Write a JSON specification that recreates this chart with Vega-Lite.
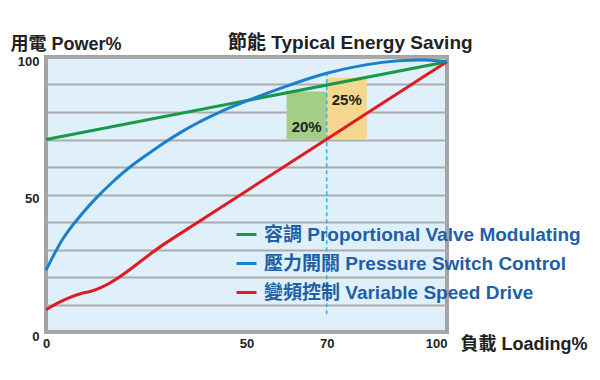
{
  "$schema": "https://vega.github.io/schema/vega-lite/v6.json",
  "width": 401,
  "height": 275,
  "autosize": {"type": "none"},
  "padding": {"left": 46, "top": 57, "right": 153, "bottom": 48},
  "background": "white",
  "config": {
    "view": {"fill": "#dff0fb", "stroke": "#a3a3a3", "strokeWidth": 4},
    "font": "Liberation Sans, Noto Sans CJK TC, sans-serif"
  },
  "title": {
    "text": "節能 Typical Energy Saving",
    "anchor": "start",
    "frame": "group",
    "dx": 182,
    "dy": 41,
    "offset": 8,
    "baseline": "alphabetic",
    "fontSize": 19,
    "fontWeight": "bold",
    "color": "#222222",
    "font": "Liberation Sans, Noto Sans CJK TC, sans-serif"
  },
  "datasets": {
    "lines": [
      {"series": "容調  Proportional Valve Modulating", "x": 0, "y": 70},
      {"series": "容調  Proportional Valve Modulating", "x": 100, "y": 98.3},
      {"series": "壓力開關  Pressure Switch Control", "x": 0, "y": 22.5},
      {"series": "壓力開關  Pressure Switch Control", "x": 4.2, "y": 34.6},
      {"series": "壓力開關  Pressure Switch Control", "x": 8.3, "y": 41.9},
      {"series": "壓力開關  Pressure Switch Control", "x": 12.5, "y": 48.9},
      {"series": "壓力開關  Pressure Switch Control", "x": 16.6, "y": 54.6},
      {"series": "壓力開關  Pressure Switch Control", "x": 20.8, "y": 60},
      {"series": "壓力開關  Pressure Switch Control", "x": 25, "y": 64.3},
      {"series": "壓力開關  Pressure Switch Control", "x": 29.1, "y": 68.5},
      {"series": "壓力開關  Pressure Switch Control", "x": 33.3, "y": 72.4},
      {"series": "壓力開關  Pressure Switch Control", "x": 37.4, "y": 75.8},
      {"series": "壓力開關  Pressure Switch Control", "x": 41.6, "y": 78.8},
      {"series": "壓力開關  Pressure Switch Control", "x": 45.7, "y": 81.6},
      {"series": "壓力開關  Pressure Switch Control", "x": 50, "y": 84},
      {"series": "壓力開關  Pressure Switch Control", "x": 60, "y": 89.5},
      {"series": "壓力開關  Pressure Switch Control", "x": 70, "y": 94.4},
      {"series": "壓力開關  Pressure Switch Control", "x": 80, "y": 97.4},
      {"series": "壓力開關  Pressure Switch Control", "x": 88, "y": 98.8},
      {"series": "壓力開關  Pressure Switch Control", "x": 95, "y": 99.1},
      {"series": "壓力開關  Pressure Switch Control", "x": 100, "y": 98.3},
      {"series": "變頻控制  Variable Speed Drive", "x": 0, "y": 8.1},
      {"series": "變頻控制  Variable Speed Drive", "x": 3, "y": 10.6},
      {"series": "變頻控制  Variable Speed Drive", "x": 6, "y": 12.6},
      {"series": "變頻控制  Variable Speed Drive", "x": 9, "y": 14.1},
      {"series": "變頻控制  Variable Speed Drive", "x": 11.2, "y": 14.8},
      {"series": "變頻控制  Variable Speed Drive", "x": 30, "y": 32.5},
      {"series": "變頻控制  Variable Speed Drive", "x": 50, "y": 51.3},
      {"series": "變頻控制  Variable Speed Drive", "x": 70, "y": 70.1},
      {"series": "變頻控制  Variable Speed Drive", "x": 90, "y": 88.9},
      {"series": "變頻控制  Variable Speed Drive", "x": 100, "y": 98.3}
    ],
    "boxes": [
      {"x": 60, "x2": 70, "y": 70, "y2": 87.5, "fill": "#a2ce85", "label": "20%", "lx": 65, "ly": 74.5},
      {"x": 70, "x2": 80, "y": 70, "y2": 92.5, "fill": "#f5d78e", "label": "25%", "lx": 75, "ly": 84.3}
    ],
    "marker": [
      {"x": 70, "y": 6.5, "y2": 95}
    ]
  },
  "layer": [
    {
      "data": {"name": "boxes"},
      "mark": {"type": "rect"},
      "encoding": {
        "x": {
          "field": "x", "type": "quantitative",
          "scale": {"domain": [0, 100], "nice": false, "zero": false},
          "axis": {
            "values": [0, 50, 70, 100],
            "domain": false, "ticks": false, "grid": false,
            "labelFontSize": 13, "labelFontWeight": "bold", "labelColor": "#222222",
            "labelPadding": 5, "labelOverlap": false,
            "labelAlign": {"condition": {"test": "datum.value == 100", "value": "right"}, "value": "center"},
            "title": "負載 Loading%",
            "titleFontSize": 18, "titleFontWeight": "bold", "titleColor": "#222222",
            "titleAnchor": "start", "titleAlign": "left", "titleBaseline": "alphabetic",
            "titleX": 414, "titleY": 17
          }
        },
        "x2": {"field": "x2"},
        "y": {
          "field": "y", "type": "quantitative",
          "scale": {"domain": [0, 100], "nice": false, "zero": false},
          "axis": {
            "values": [0, 10, 20, 30, 40, 50, 60, 70, 80, 90, 100],
            "tickCount": 11,
            "labelExpr": "datum.value % 50 === 0 ? datum.label : ''",
            "labelOverlap": false,
            "domain": false, "ticks": false,
            "grid": true, "gridColor": "#ababab", "gridWidth": 2, "gridOpacity": 1,
            "labelFontSize": 13, "labelFontWeight": "bold", "labelColor": "#222222",
            "labelPadding": 7, "labelOffset": 4,
            "title": "用電 Power%",
            "titleFontSize": 18, "titleFontWeight": "bold", "titleColor": "#222222",
            "titleAngle": 0, "titleAlign": "left", "titleBaseline": "alphabetic",
            "titleX": -36, "titleY": -8
          }
        },
        "y2": {"field": "y2"},
        "fill": {"field": "fill", "type": "nominal", "scale": null}
      }
    },
    {
      "data": {"name": "boxes"},
      "mark": {"type": "text", "fontSize": 15, "fontWeight": "bold", "color": "#222222", "align": "center", "baseline": "middle"},
      "encoding": {
        "x": {"field": "lx", "type": "quantitative"},
        "y": {"field": "ly", "type": "quantitative"},
        "text": {"field": "label", "type": "nominal"}
      }
    },
    {
      "data": {"name": "marker"},
      "mark": {"type": "rule", "color": "#3aaee0", "strokeWidth": 1.5, "strokeDash": [4, 3]},
      "encoding": {
        "x": {"field": "x", "type": "quantitative"},
        "y": {"field": "y", "type": "quantitative"},
        "y2": {"field": "y2"}
      }
    },
    {
      "data": {"name": "lines"},
      "transform": [{"filter": "datum.series !== '壓力開關  Pressure Switch Control'"}],
      "mark": {"type": "line", "strokeWidth": 3, "interpolate": "monotone"},
      "encoding": {
        "x": {"field": "x", "type": "quantitative"},
        "y": {"field": "y", "type": "quantitative"},
        "color": {
          "field": "series", "type": "nominal",
          "scale": {
            "domain": ["容調  Proportional Valve Modulating", "壓力開關  Pressure Switch Control", "變頻控制  Variable Speed Drive"],
            "range": ["#169a45", "#1a80c8", "#e11b22"]
          },
          "legend": {
            "title": null,
            "orient": "none",
            "legendX": 189,
            "legendY": 166,
            "padding": 0,
            "symbolType": "stroke",
            "symbolSize": 400,
            "symbolStrokeWidth": 3,
            "labelFontSize": 19,
            "labelFontWeight": "bold",
            "labelColor": "#1e5fa5",
            "labelOffset": 6,
            "labelLimit": 0,
            "rowPadding": 7
          }
        }
      }
    },
    {
      "data": {"name": "lines"},
      "transform": [{"filter": "datum.series === '壓力開關  Pressure Switch Control'"}],
      "mark": {"type": "line", "strokeWidth": 3, "interpolate": "basis"},
      "encoding": {
        "x": {"field": "x", "type": "quantitative"},
        "y": {"field": "y", "type": "quantitative"},
        "color": {"field": "series", "type": "nominal"}
      }
    }
  ]
}
